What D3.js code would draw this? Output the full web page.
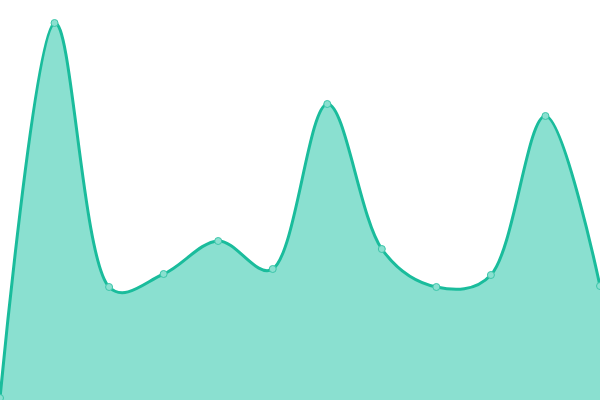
<!DOCTYPE html>
<html>
<head>
<meta charset="utf-8">
<script src="https://cdn.jsdelivr.net/npm/d3@7"></script>
<style>
  body { margin: 0; background: #fff; }
</style>
</head>
<body>
<div class="chart"></div>
<script>
var svgWidth = 600;
var svgHeight = 400;

// Data
var labels = ["1", "2", "3", "4", "5", "6", "7", "8", "9", "10", "11", "12"];
var values = [2, 377, 113, 126, 159, 131, 296, 151, 113, 125, 284, 114];

var svg = d3.select(".chart")
  .append("svg")
  .attr("width", svgWidth)
  .attr("height", svgHeight);

// Scales
var xScale = d3.scalePoint()
  .domain(labels)
  .range([0, svgWidth]);

var yScale = d3.scaleLinear()
  .domain([0, 400])
  .range([svgHeight, 0]);

var curve = d3.curveCatmullRom.alpha(0.35);

var area = d3.area()
  .x((d, i) => xScale(labels[i]))
  .y0(yScale(0))
  .y1(d => yScale(d))
  .curve(curve);

var line = d3.line()
  .x((d, i) => xScale(labels[i]))
  .y(d => yScale(d))
  .curve(curve);

svg.append("path")
  .datum(values)
  .attr("d", area)
  .attr("fill", "#8ae0d0");

svg.append("path")
  .datum(values)
  .attr("d", line)
  .attr("fill", "none")
  .attr("stroke", "#1abc9c")
  .attr("stroke-width", 3);

// Points
svg.selectAll("circle")
  .data(values)
  .enter()
  .append("circle")
  .attr("cx", (d, i) => xScale(labels[i]))
  .attr("cy", d => yScale(d))
  .attr("r", 3.5)
  .attr("fill", "#8ae0d0")
  .attr("stroke", "#3cc6aa")
  .attr("stroke-width", 1);
</script>
</body>
</html>
